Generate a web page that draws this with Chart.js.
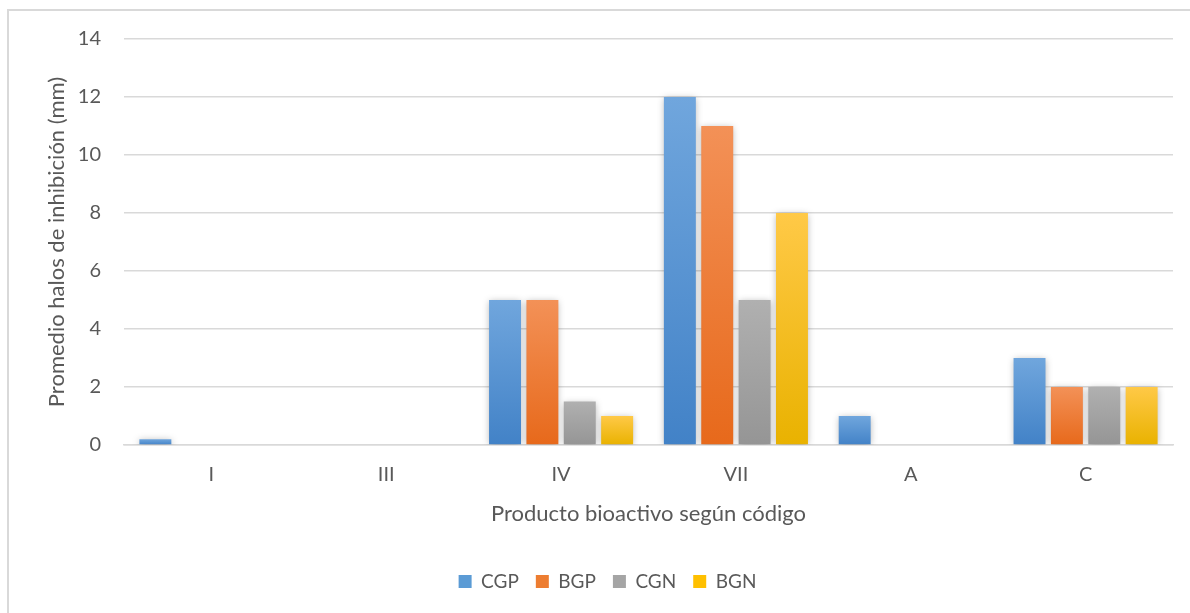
<!DOCTYPE html>
<html>
<head>
<meta charset="utf-8">
<script src="https://cdn.jsdelivr.net/npm/chart.js@4/dist/chart.umd.min.js"></script>
<style>
  html, body { margin: 0; padding: 0; background: #ffffff; }
  #wrap { width: 1190px; height: 613px; position: relative; }
</style>
</head>
<body>
<div id="wrap"><canvas id="chart" width="1190" height="613"></canvas></div>
<script>
// Categories and series (inhibition halo averages, mm)
const categories = ['I', 'III', 'IV', 'VII', 'A', 'C'];
const seriesNames = ['CGP', 'BGP', 'CGN', 'BGN'];
const cgp = [0.2, 0, 5, 12, 1, 3];
const bgp = [0, 0, 5, 11, 0, 2];
const cgn = [0, 0, 1.5, 5, 0, 2];
const bgn = [0, 0, 1, 8, 0, 2];
const yTicks = [0, 2, 4, 6, 8, 10, 12, 14];

// light (top) / dark (bottom) shades for each series
const palette = [
  { top: '#70a6dd', bottom: '#4282c7', mid: '#5b9bd5' },
  { top: '#f39157', bottom: '#e7691b', mid: '#ed7d31' },
  { top: '#b0b0b0', bottom: '#959595', mid: '#a5a5a5' },
  { top: '#ffc947', bottom: '#e9b200', mid: '#ffc000' }
];

const FONT = 'Lato, "Open Sans", sans-serif';
const TEXT = '#595959';
const GRID = '#d9d9d9';

function barFill(idx) {
  return function (ctx) {
    const c = palette[idx];
    if (ctx.type !== 'data') return c.mid;
    const y = ctx.chart.scales.y;
    if (!y) return c.mid;
    const top = y.getPixelForValue(ctx.raw);
    const bot = y.getPixelForValue(0);
    if (!isFinite(top) || !isFinite(bot) || Math.abs(bot - top) < 1) return c.mid;
    const g = ctx.chart.ctx.createLinearGradient(0, top, 0, bot);
    g.addColorStop(0, c.top);
    g.addColorStop(1, c.bottom);
    return g;
  };
}

const allSeries = [cgp, bgp, cgn, bgn];
const datasets = allSeries.map((vals, i) => ({
  label: seriesNames[i],
  data: vals,
  backgroundColor: barFill(i),
  borderWidth: 0,
  barPercentage: 0.855,
  categoryPercentage: 0.855
}));

// soft drop shadow under the bars
const barShadow = {
  id: 'barShadow',
  beforeDatasetsDraw(chart) {
    const c = chart.ctx;
    c.save();
    c.shadowColor = 'rgba(0,0,0,0.30)';
    c.shadowBlur = 7;
    c.shadowOffsetX = 0;
    c.shadowOffsetY = 1;
  },
  afterDatasetsDraw(chart) {
    chart.ctx.restore();
  }
};

// thin frame around the whole chart
const frame = {
  id: 'frame',
  beforeDraw(chart) {
    const c = chart.ctx;
    c.save();
    c.fillStyle = '#ffffff';
    c.fillRect(0, 0, chart.width, chart.height);
    c.strokeStyle = GRID;
    c.lineWidth = 2;
    c.strokeRect(8, 10, chart.width + 20, chart.height + 20);
    c.restore();
  }
};

// nudge the legend row a little to the right of the canvas centre
const legendShift = {
  id: 'legendShift',
  afterLayout(chart) {
    if (chart.legend) {
      chart.legend.left += 16;
      chart.legend.right += 16;
    }
  }
};

new Chart(document.getElementById('chart'), {
  type: 'bar',
  data: { labels: categories, datasets },
  plugins: [frame, barShadow, legendShift],
  options: {
    responsive: false,
    animation: false,
    devicePixelRatio: 1,
    layout: { padding: { left: 10, right: 17, top: 39, bottom: 12 } },
    scales: {
      x: {
        grid: { display: false, drawTicks: false },
        border: { display: true, color: GRID, width: 1.5 },
        ticks: { color: TEXT, font: { family: FONT, size: 20 }, padding: 18 },
        title: {
          display: true,
          text: 'Producto bioactivo según código',
          color: TEXT,
          font: { family: FONT, size: 22 },
          padding: { top: 0, bottom: 28 }
        },
        afterFit(scale) { scale.height = 110; }
      },
      y: {
        min: 0,
        max: 14,
        afterBuildTicks(scale) { scale.ticks = yTicks.map(v => ({ value: v })); },
        grid: { color: GRID, lineWidth: 1.5, drawTicks: false },
        border: { display: false },
        ticks: { color: TEXT, font: { family: FONT, size: 20 }, padding: 23 },
        title: {
          display: true,
          text: 'Promedio halos de inhibición (mm)',
          color: TEXT,
          font: { family: FONT, size: 22 },
          padding: { top: 34, bottom: 0 }
        },
        afterFit(scale) { scale.width = 114; }
      }
    },
    plugins: {
      legend: {
        position: 'bottom',
        labels: {
          color: TEXT,
          font: { family: FONT, size: 19 },
          boxWidth: 13,
          boxHeight: 13,
          padding: 17,
          generateLabels(chart) {
            return seriesNames.map((n, i) => ({
              text: n,
              fillStyle: palette[i].mid,
              strokeStyle: palette[i].mid,
              lineWidth: 0,
              fontColor: TEXT,
              datasetIndex: i,
              hidden: false
            }));
          }
        }
      },
      tooltip: { enabled: false }
    }
  }
});
</script>
</body>
</html>
